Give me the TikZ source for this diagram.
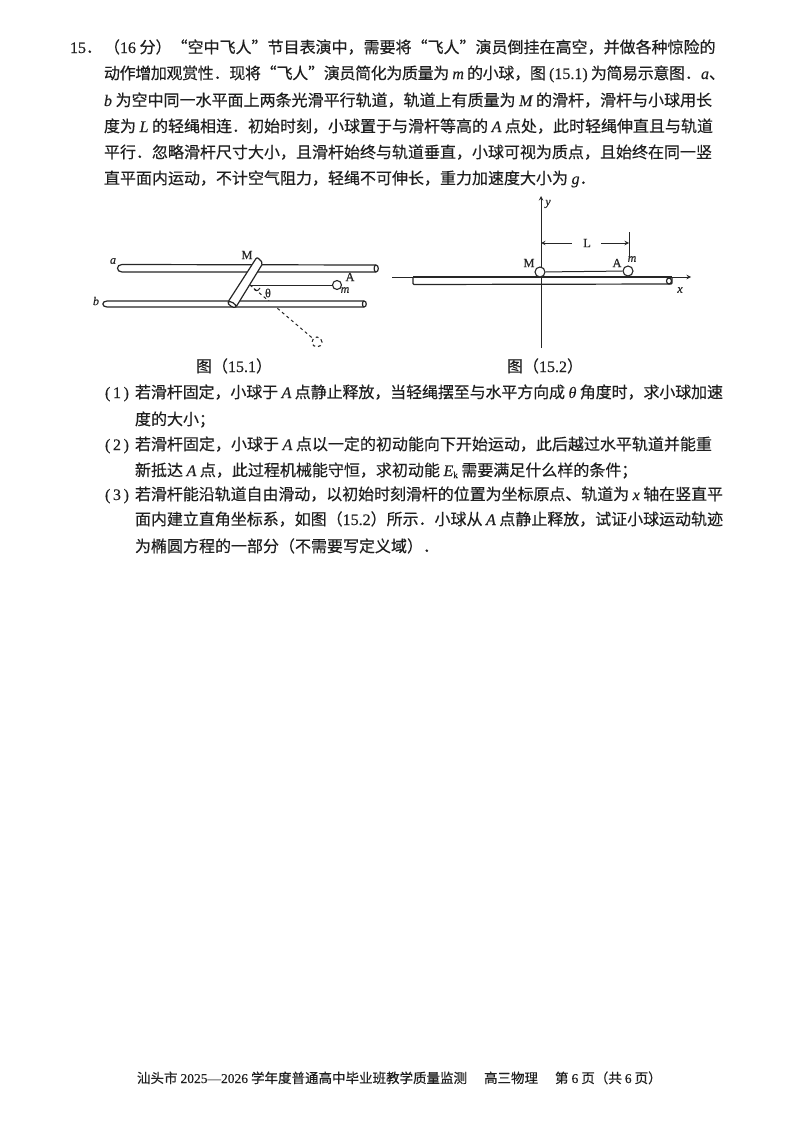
\documentclass[tikz,border=0pt]{standalone}
\usepackage{fontspec}
\setmainfont{Noto Sans CJK SC}[RawFeature={embolden=0.4}]
\newfontfamily\latfont{Liberation Serif}[RawFeature={embolden=0.4}]
\XeTeXlinebreaklocale "zh"
\XeTeXlinebreakskip=0pt plus 4pt minus 1pt
\newcommand{\lat}[1]{{\latfont #1}}
\newcommand{\vb}[1]{{\latfont\itshape #1}}
\newcommand{\jline}[1]{\parfillskip=0pt\tolerance=9999\hbadness=10000\noindent #1}
\tikzset{
	txtline/.style={anchor=base west, inner sep=0pt, outer sep=0pt, text=black!88, font=\fontsize{16}{18}\selectfont},
	fullline/.style={txtline, text width=#1, align=justify},
	figlabel/.style={inner sep=0pt, text=black!85, font=\latfont\fontsize{12.5}{12.5}\selectfont},
	figvar/.style={figlabel, font=\latfont\itshape\fontsize{12}{12}\selectfont},
	railline/.style={line width=1.2pt, draw=black!85},
	thinline/.style={line width=1pt, draw=black!85},
	ball/.style={circle, draw=black!85, line width=1.1pt, fill=white, inner sep=0pt, minimum size=#1},
}

\begin{document}
\begin{tikzpicture}[x=1pt, y=-1pt]
			\useasboundingbox (0, 0) rectangle (800, 1132);
			
			%%%%% TEXT %%%%%
			\node[txtline] (qnum) at (70, 53) {\lat{15}．};
			\node[fullline=621pt] (lineA) at (104, 53) {\jline{（\lat{16} 分）“空中飞人”节目表演中，需要将“飞人”演员倒挂在高空，并做各种惊险的}};
			\node[fullline=621pt] (lineB) at (104, 79) {\jline{动作增加观赏性．现将“飞人”演员简化为质量为 \vb{m} 的小球，图 \lat{(15.1)} 为简易示意图．\vb{a}、}};
			\node[fullline=621pt] (lineC) at (104, 106) {\jline{\vb{b} 为空中同一水平面上两条光滑平行轨道，轨道上有质量为 \vb{M} 的滑杆，滑杆与小球用长}};
			\node[fullline=621pt] (lineD) at (104, 132) {\jline{度为 \vb{L} 的轻绳相连．初始时刻，小球置于与滑杆等高的 \vb{A} 点处，此时轻绳伸直且与轨道}};
			\node[fullline=621pt] (lineE) at (104, 158) {\jline{平行．忽略滑杆尺寸大小，且滑杆始终与轨道垂直，小球可视为质点，且始终在同一竖}};
			\node[txtline] (lineF) at (104, 184) {直平面内运动，不计空气阻力，轻绳不可伸长，重力加速度大小为 \vb{g}．};
			
			\node[txtline] (partA) at (105, 398) {\lat{(\,1\,)}};
			\node[fullline=588pt] (lineG) at (135, 398) {\jline{若滑杆固定，小球于 \vb{A} 点静止释放，当轻绳摆至与水平方向成 \vb{θ} 角度时，求小球加速}};
			\node[txtline] (lineH) at (135, 425) {度的大小；};
			\node[txtline] (partB) at (105, 450) {\lat{(\,2\,)}};
			\node[fullline=588pt] (lineI) at (135, 450) {\jline{若滑杆固定，小球于 \vb{A} 点以一定的初动能向下开始运动，此后越过水平轨道并能重}};
			\node[txtline] (lineJ) at (135, 476) {新抵达 \vb{A} 点，此过程机械能守恒，求初动能 \vb{E}\raisebox{-2pt}{\latfont\fontsize{9}{9}\selectfont k} 需要满足什么样的条件；};
			\node[txtline] (partC) at (105, 500) {\lat{(\,3\,)}};
			\node[fullline=588pt] (lineK) at (135, 500) {\jline{若滑杆能沿轨道自由滑动，以初始时刻滑杆的位置为坐标原点、轨道为 \vb{x} 轴在竖直平}};
			\node[fullline=588pt] (lineL) at (135, 525) {\jline{面内建立直角坐标系，如图（\lat{15.2}）所示．小球从 \vb{A} 点静止释放，试证小球运动轨迹}};
			\node[txtline] (lineM) at (135, 552) {为椭圆方程的一部分（不需要写定义域）．};
			
			\node[txtline, font=\fontsize{13.5}{14}\selectfont] (footer) at (137, 1083) {汕头市 \lat{2025—2026} 学年度普通高中毕业班教学质量监测\hspace{17pt}高三物理\hspace{17pt}第 \lat{6} 页（共 \lat{6} 页）};
			
			%%%%% FIG 15.1 %%%%%
			\coordinate (pivot) at (250, 285);
			\node[ball=9pt] (ballA) at (337, 285) {};
			\node[ball=10pt, dashed] (ghost) at (317, 342) {};
			
			\draw[railline, fill=white] (122, 264.5) -- (376, 265) .. controls (379, 265) and (379, 272) .. (376, 272) -- (122, 272) .. controls (116, 272) and (116, 264.5) .. (122, 264.5) -- cycle;
			\draw[railline] (376, 265) .. controls (373.5, 265) and (373.5, 272) .. (376, 272);
			
			\draw[thinline] (pivot) -- (ballA);
			\draw[thinline, dashed] (pivot) -- (ghost);
			\draw[thinline] (254, 288.5) .. controls (255, 291.5) and (258, 291.5) .. (260, 288);
			
			\draw[railline, fill=white] (107, 301) -- (364, 301) .. controls (367, 301) and (367, 307) .. (364, 307) -- (107, 307) .. controls (101.5, 307) and (101.5, 301) .. (107, 301) -- cycle;
			\draw[railline] (364, 301) .. controls (362, 301) and (362, 307) .. (364, 307);
			
			\draw[railline, fill=white, rounded corners=2pt] (257, 257) -- (263, 263) -- (236, 307) -- (228, 302) -- cycle;
			\draw[railline, fill=white, rotate around={-32:(232,304.5)}] (232, 304.5) ellipse (4.5 and 2);
			
			\node[figvar] (labA) at (113, 261) {a};
			\node[figvar] (labB) at (96, 301) {b};
			\node[figlabel] (labM) at (247, 255) {M};
			\node[figlabel] (labP) at (350, 277) {A};
			\node[figvar] (labm) at (345, 290) {m};
			\node[figlabel] (labT) at (268, 293) {θ};
			\node[txtline, anchor=base] (capA) at (234, 372) {图（\lat{15.1}）};
			
			%%%%% FIG 15.2 %%%%%
			\coordinate (xstart) at (392, 277);
			\coordinate (xend) at (691, 277);
			\coordinate (ystart) at (541, 348);
			\coordinate (yend) at (541, 196);
			
			\draw[railline, rounded corners=1pt] (413, 277) -- (413, 284.5) -- (672, 284) -- (672, 277);
			\draw[railline] (669, 281) ellipse (2.5 and 3);
			
			\draw[thinline, -stealth] (xstart) -- (xend);
			\draw[line width=1.5pt, draw=black!85] (413, 277) -- (672, 277);
			\draw[thinline, -stealth] (ystart) -- (yend);
			
			\node[ball=10pt] (ballM) at (540, 272) {};
			\node[ball=10pt] (ballP) at (628, 271) {};
			\draw[thinline] (ballM) -- (ballP);
			
			\coordinate (tickT) at (629, 232);
			\coordinate (tickB) at (629, 257);
			\draw[thinline] (tickT) -- (tickB);
			
			\node[figlabel] (labL) at (587, 243) {L};
			\draw[thinline, -stealth] (labL.west) ++(-11, 0) -- (541, 243);
			\draw[thinline, -stealth] (labL.east) ++(10, 0) -- (tickT |- labL);
			
			\node[figvar] (laby) at (548, 204) {y};
			\node[figlabel] (labMM) at (529, 263) {M};
			\node[figlabel] (labPP) at (617, 263) {A};
			\node[figvar] (labmm) at (632, 259) {m};
			\node[figvar] (labx) at (680, 290) {x};
			\node[txtline, anchor=base] (capB) at (545, 372) {图（\lat{15.2}）};
		\end{tikzpicture}
\end{document}
